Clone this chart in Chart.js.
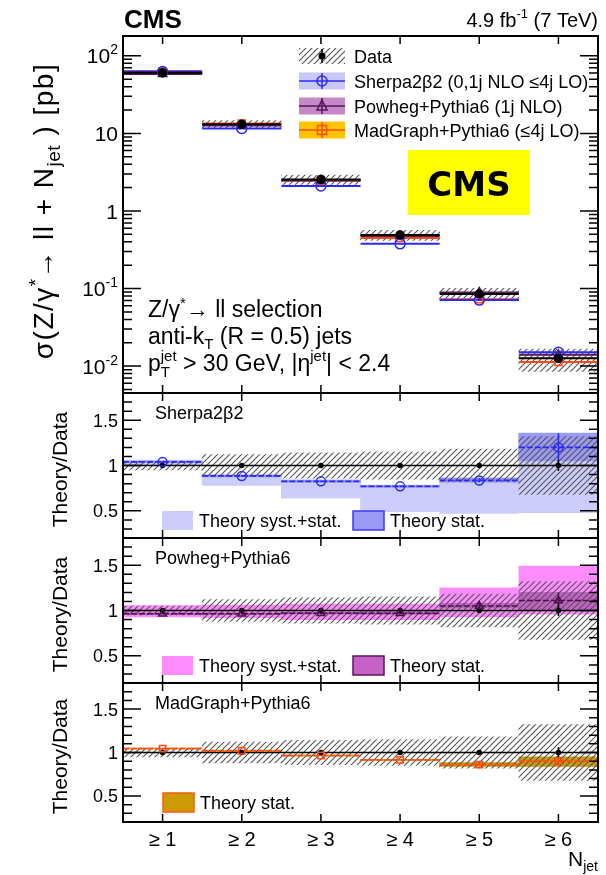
<!DOCTYPE html>
<html lang="en">
<head>
<meta charset="UTF-8">
<title>Z+jets inclusive jet multiplicity</title>
<script src="https://cdn.jsdelivr.net/npm/chart.js@4.4.0/dist/chart.umd.min.js"></script>
<style>
  html, body { margin: 0; padding: 0; background: #fff; }
  #wrap { position: relative; width: 606px; height: 875px; }
  #wrap canvas { position: absolute; left: 0; top: 0; }
</style>
</head>
<body>
<div id="wrap">
  <canvas id="mainChart" width="606" height="875"></canvas>
  <canvas id="sherpaChart" width="606" height="875"></canvas>
  <canvas id="powhegChart" width="606" height="875"></canvas>
  <canvas id="madgraphChart" width="606" height="875"></canvas>
</div>
<script>
// ---- values ----
const jetBins = [1, 2, 3, 4, 5, 6];
const binLabels = ['≥ 1', '≥ 2', '≥ 3', '≥ 4', '≥ 5', '≥ 6'];

// measured cross sections [pb], total relative uncertainty, stat. uncertainty
const dataXsec = [60.4, 13.1, 2.55, 0.49, 0.085, 0.0126];
const dataRelErr = [0.05, 0.12, 0.14, 0.15, 0.18, 0.32];
const dataStatErr = [0.008, 0.01, 0.012, 0.015, 0.025, 0.06];

// predictions [pb]
const sherpaXsec = [62.8, 11.6, 2.10, 0.377, 0.071, 0.0151];
const powhegXsec = [58.3, 12.6, 2.47, 0.475, 0.089, 0.0140];
const madgraphXsec = [63.1, 13.4, 2.46, 0.448, 0.073, 0.0113];

// theory / data
const sherpaRatio = [1.04, 0.885, 0.825, 0.77, 0.835, 1.20];
const sherpaStatLo = [1.03, 0.875, 0.815, 0.76, 0.815, 1.05];
const sherpaStatHi = [1.05, 0.895, 0.835, 0.78, 0.86, 1.355];
const sherpaTotLo = [1.00, 0.78, 0.64, 0.49, 0.47, 0.48];
const sherpaTotHi = [1.06, 0.90, 0.845, 0.785, 0.865, 1.36];

const powhegRatio = [0.965, 0.965, 0.97, 0.97, 1.05, 1.11];
const powhegStatLo = [0.955, 0.955, 0.96, 0.955, 1.025, 1.00];
const powhegStatHi = [0.975, 0.975, 0.98, 0.985, 1.08, 1.20];
const powhegTotLo = [0.93, 0.92, 0.90, 0.90, 0.93, 0.96];
const powhegTotHi = [1.055, 1.06, 1.07, 1.07, 1.25, 1.49];

const madgraphRatio = [1.045, 1.02, 0.965, 0.915, 0.86, 0.90];
const madgraphStatLo = [1.04, 1.015, 0.96, 0.91, 0.84, 0.84];
const madgraphStatHi = [1.05, 1.025, 0.97, 0.92, 0.885, 0.95];

const unity = [1, 1, 1, 1, 1, 1];

// axis ticks
const logMajor = [1e-2, 1e-1, 1, 10, 100];
const logLabels = ['10^-2', '10^-1', '1', '10', '10^2'];
const ratioMajor = [0.5, 1, 1.5];
const ratioLabels = ['0.5', '1', '1.5'];

// ---- layout ----
const FONT = '"Liberation Sans", Arial, Helvetica, sans-serif';
const X0 = 123, X1 = 598;
const mainPanel = { top: 36, bottom: 393 };
const sherpaPanel = { top: 393, bottom: 538 };
const powhegPanel = { top: 538, bottom: 683 };
const madgraphPanel = { top: 683, bottom: 822 };

const hatch = (() => {
  const c = document.createElement('canvas');
  c.width = 6; c.height = 6;
  const g = c.getContext('2d');
  g.strokeStyle = '#555';
  g.lineWidth = 1.1;
  g.beginPath();
  g.moveTo(-1, 7); g.lineTo(7, -1);
  g.moveTo(-1, 1); g.lineTo(1, -1);
  g.moveTo(5, 7); g.lineTo(7, 5);
  g.stroke();
  return g.createPattern(c, 'repeat');
})();

// ---- dataset helpers ----
function band(lo, hi, color, order) {
  return {
    type: 'bar', order,
    data: jetBins.map((b, i) => ({ x: b, y: [lo[i], hi[i]] })),
    backgroundColor: color, borderWidth: 0,
    barPercentage: 1, categoryPercentage: 1, grouped: false
  };
}

function steps(vals, color, width, dash, order) {
  const pts = [];
  jetBins.forEach((b, i) => {
    pts.push({ x: b - 0.5, y: vals[i] }, { x: b + 0.5, y: vals[i] }, { x: b + 0.5, y: null });
  });
  return { type: 'line', order, data: pts, borderColor: color, borderWidth: width,
           borderDash: dash, pointRadius: 0, spanGaps: false, fill: false };
}

function vbars(lo, hi, color, width, order) {
  const pts = [];
  jetBins.forEach((b, i) => {
    pts.push({ x: b, y: lo[i] }, { x: b, y: hi[i] }, { x: b, y: null });
  });
  return { type: 'line', order, data: pts, borderColor: color, borderWidth: width,
           pointRadius: 0, spanGaps: false, fill: false };
}

function markers(vals, style, color, radius, fill, order) {
  return {
    type: 'line', order, showLine: false,
    data: jetBins.map((b, i) => ({ x: b, y: vals[i] })),
    pointStyle: style, pointRadius: radius, pointBorderWidth: 1.5,
    pointBorderColor: color, pointBackgroundColor: fill
  };
}

// ---- text helpers ----
function setFont(ctx, p) {
  ctx.font = (p.bold ? 'bold ' : '') + p.s + 'px ' + (p.f || FONT);
  ctx.letterSpacing = (p.ls || 0) + 'px';
}

function richWidth(ctx, parts) {
  let w = 0;
  parts.forEach(p => {
    setFont(ctx, p);
    if (!p.keep) w += ctx.measureText(p.t).width;
  });
  return w;
}

function drawRich(ctx, parts, x, y, align) {
  const w = richWidth(ctx, parts);
  let cx = align === 'right' ? x - w : align === 'center' ? x - w / 2 : x;
  ctx.textAlign = 'left';
  ctx.textBaseline = 'alphabetic';
  parts.forEach(p => {
    setFont(ctx, p);
    ctx.fillStyle = p.c || '#000';
    ctx.fillText(p.t, cx, y + (p.dy || 0));
    if (!p.keep) cx += ctx.measureText(p.t).width;
  });
  ctx.letterSpacing = '0px';
}

function tickParts(label, size) {
  const [base, exp] = label.split('^');
  const parts = [{ t: base, s: size }];
  if (exp) parts.push({ t: exp, s: Math.round(size * 0.68), dy: -Math.round(size * 0.45) });
  return parts;
}

function rotated(ctx, parts, cx, cy) {
  ctx.save();
  ctx.translate(cx, cy);
  ctx.rotate(-Math.PI / 2);
  drawRich(ctx, parts, 0, 0, 'center');
  ctx.restore();
}

// ---- frame, inward ticks and tick labels ----
function framePlugin(major, minor, labels, labelSize) {
  return {
    id: 'frame',
    afterDraw(chart) {
      const { ctx, chartArea: a, scales: { x, y } } = chart;
      ctx.save();
      ctx.strokeStyle = '#000';
      ctx.lineWidth = 1.5;
      ctx.beginPath();
      jetBins.forEach(b => {
        const px = x.getPixelForValue(b);
        ctx.moveTo(px, a.top); ctx.lineTo(px, a.top + 8);
        ctx.moveTo(px, a.bottom); ctx.lineTo(px, a.bottom - 8);
      });
      major.forEach(v => {
        const py = y.getPixelForValue(v);
        ctx.moveTo(a.left, py); ctx.lineTo(a.left + 18, py);
        ctx.moveTo(a.right, py); ctx.lineTo(a.right - 18, py);
      });
      minor.forEach(v => {
        const py = y.getPixelForValue(v);
        ctx.moveTo(a.left, py); ctx.lineTo(a.left + 9, py);
        ctx.moveTo(a.right, py); ctx.lineTo(a.right - 9, py);
      });
      ctx.stroke();
      ctx.lineWidth = 2;
      ctx.strokeRect(a.left, a.top, a.right - a.left, a.bottom - a.top);
      major.forEach((v, i) => {
        const py = y.getPixelForValue(v);
        drawRich(ctx, tickParts(labels[i], labelSize), 118, py + labelSize * 0.36, 'right');
      });
      ctx.restore();
    }
  };
}

function ratioMinor() {
  const out = [];
  for (let k = 3; k <= 17; k++) if (k % 5) out.push(k / 10);
  return out;
}

function logMinor(lo, hi) {
  const out = [];
  for (let e = -3; e <= 2; e++) {
    for (let m = 2; m <= 9; m++) {
      const v = m * Math.pow(10, e);
      if (v > lo && v < hi) out.push(v);
    }
  }
  return out;
}

function makeChart(id, panel, yScale, datasets, extra) {
  return new Chart(document.getElementById(id), {
    type: 'bar',
    data: { datasets },
    options: {
      responsive: false,
      animation: false,
      devicePixelRatio: 1,
      layout: { padding: { left: X0, right: 606 - X1, top: panel.top, bottom: 875 - panel.bottom } },
      plugins: { legend: { display: false }, tooltip: { enabled: false } },
      scales: {
        x: {
          type: 'linear', min: 0.5, max: 6.5, offset: false, display: false,
          afterBuildTicks: s => { s.ticks = jetBins.map(v => ({ value: v })); }
        },
        y: Object.assign({ display: false }, yScale)
      }
    },
    plugins: extra
  });
}

// ---- main panel: cross sections ----
const Y_MIN = 0.0045, Y_MAX = 180;

makeChart('mainChart', mainPanel, { type: 'logarithmic', min: Y_MIN, max: Y_MAX }, [
  band(dataXsec.map((v, i) => v * (1 - dataRelErr[i])), dataXsec.map((v, i) => v * (1 + dataRelErr[i])), hatch, 20),
  steps(sherpaXsec, '#2a2aff', 2, [], 8),
  steps(powhegXsec, '#5a165a', 2, [], 8),
  steps(madgraphXsec, '#ff4a10', 2, [], 8),
  steps(dataXsec, '#000', 2, [], 6),
  markers(sherpaXsec, 'circle', '#2a2aff', 5, 'rgba(0,0,0,0)', 4),
  markers(powhegXsec, 'triangle', '#5a165a', 5, 'rgba(0,0,0,0)', 4),
  markers(madgraphXsec, 'rect', '#ff4a10', 5, 'rgba(0,0,0,0)', 4),
  markers(dataXsec, 'circle', '#000', 4, '#000', 1)
], [
  framePlugin(logMajor, logMinor(Y_MIN, Y_MAX), logLabels, 21),
  {
    id: 'mainText',
    afterDraw(chart) {
      const ctx = chart.ctx;
      ctx.save();
      drawRich(ctx, [{ t: 'CMS', s: 26, bold: true }], 124, 28, 'left');
      drawRich(ctx, [{ t: '4.9 fb', s: 20 }, { t: '-1', s: 13, dy: -9 }, { t: ' (7 TeV)', s: 20 }], 598, 27, 'right');

      rotated(ctx, [
        { t: 'σ(Z/γ', s: 28, ls: 1.5 }, { t: '*', s: 19, dy: -11 }, { t: '→ ll + N', s: 28, ls: 1.5 },
        { t: 'jet', s: 19, dy: 7, ls: 0.5 }, { t: ' ) [pb]', s: 28, ls: 1.5 }
      ], 53, 211);

      // legend
      const rows = [56, 81, 106, 130];
      const bx = 299, bw = 46, cx = 322;
      ctx.fillStyle = hatch;
      ctx.fillRect(bx, rows[0] - 8, bw, 16);
      ctx.fillStyle = '#c8c8fa';
      ctx.fillRect(bx, rows[1] - 8.5, bw, 17);
      ctx.fillStyle = '#c48ac8';
      ctx.fillRect(bx, rows[2] - 8.5, bw, 17);
      ctx.fillStyle = '#ffc400';
      ctx.fillRect(bx, rows[3] - 8.5, bw, 17);
      const lineCols = ['#000', '#2a2aff', '#5a165a', '#ff4a10'];
      ctx.lineWidth = 1.5;
      [1, 2, 3].forEach(k => {
        ctx.strokeStyle = lineCols[k];
        ctx.beginPath();
        ctx.moveTo(bx, rows[k]); ctx.lineTo(bx + bw, rows[k]);
        ctx.moveTo(cx, rows[k] - 8); ctx.lineTo(cx, rows[k] + 8);
        ctx.stroke();
      });
      ctx.strokeStyle = '#000';
      ctx.beginPath();
      ctx.moveTo(cx, rows[0] - 7); ctx.lineTo(cx, rows[0] + 7);
      ctx.stroke();
      ctx.fillStyle = '#000';
      ctx.beginPath(); ctx.arc(cx, rows[0], 3.5, 0, Math.PI * 2); ctx.fill();
      ctx.strokeStyle = '#2a2aff';
      ctx.beginPath(); ctx.arc(cx, rows[1], 5, 0, Math.PI * 2); ctx.stroke();
      ctx.strokeStyle = '#5a165a';
      ctx.beginPath(); ctx.moveTo(cx, rows[2] - 6); ctx.lineTo(cx + 5, rows[2] + 4); ctx.lineTo(cx - 5, rows[2] + 4); ctx.closePath(); ctx.stroke();
      ctx.strokeStyle = '#ff4a10';
      ctx.strokeRect(cx - 4.5, rows[3] - 4.5, 9, 9);

      const legendText = ['Data', 'Sherpa2β2 (0,1j NLO ≤4j LO)', 'Powheg+Pythia6 (1j NLO)', 'MadGraph+Pythia6 (≤4j LO)'];
      legendText.forEach((t, k) => drawRich(ctx, [{ t, s: 18 }], 354, rows[k] + 6.5, 'left'));

      // yellow tag
      ctx.fillStyle = '#ffff00';
      ctx.fillRect(408, 150, 122, 65);
      drawRich(ctx, [{ t: 'CMS', s: 34, bold: true, f: '"DejaVu Sans", sans-serif' }], 469, 196, 'center');

      // selection text
      drawRich(ctx, [{ t: 'Z/γ', s: 23 }, { t: '*', s: 15, dy: -9 }, { t: '→ ll selection', s: 23 }], 148, 317, 'left');
      drawRich(ctx, [{ t: 'anti-k', s: 23 }, { t: 'T', s: 15, dy: 5 }, { t: ' (R = 0.5) jets', s: 23 }], 148, 344, 'left');
      drawRich(ctx, [
        { t: 'p', s: 23 }, { t: 'T', s: 15, dy: 6, keep: true }, { t: 'jet', s: 15, dy: -10 },
        { t: ' > 30 GeV, |η', s: 23 }, { t: 'jet', s: 15, dy: -10 }, { t: '| < 2.4', s: 23 }
      ], 148, 371, 'left');
      ctx.restore();
    }
  }
]);

// ---- ratio panels ----
const RMIN = 0.2, RMAX = 1.8;
const dataHatch = () => band(dataRelErr.map(e => 1 - e), dataRelErr.map(e => 1 + e), hatch, 15);
const dataLine = () => steps(unity, '#000', 1.5, [], 10);
const dataBars = () => vbars(dataStatErr.map(e => 1 - e), dataStatErr.map(e => 1 + e), '#000', 1.5, 3);
const dataDots = () => markers(unity, 'circle', '#000', 2, '#000', 2);

function ratioText(panel, title, legend) {
  return {
    id: 'ratioText',
    afterDraw(chart) {
      const ctx = chart.ctx;
      ctx.save();
      rotated(ctx, [{ t: 'Theory/Data', s: 21 }], 67, (panel.top + panel.bottom) / 2 + 4);
      drawRich(ctx, [{ t: title, s: 18 }], 155, panel.top + 26, 'left');
      legend.forEach(item => {
        ctx.fillStyle = item.fill;
        ctx.fillRect(item.x, item.y - 9, 31, 19);
        if (item.border) {
          ctx.strokeStyle = item.border;
          ctx.lineWidth = 1.5;
          ctx.strokeRect(item.x, item.y - 9, 31, 19);
        }
        drawRich(ctx, [{ t: item.text, s: 18 }], item.x + 37, item.y + 6.5, 'left');
      });
      ctx.restore();
    }
  };
}

const ratioScale = { type: 'linear', min: RMIN, max: RMAX };

makeChart('sherpaChart', sherpaPanel, ratioScale, [
  band(sherpaTotLo, sherpaTotHi, '#cdcdfb', 30),
  band(sherpaStatLo, sherpaStatHi, '#9a9af5', 25),
  dataHatch(), dataLine(),
  steps(sherpaRatio, '#2a2aff', 1.8, [6, 2], 8),
  vbars(sherpaStatLo, sherpaStatHi, '#2a2aff', 1.5, 7),
  dataBars(), dataDots(),
  markers(sherpaRatio, 'circle', '#2a2aff', 4.5, 'rgba(0,0,0,0)', 1)
], [
  framePlugin(ratioMajor, ratioMinor(), ratioLabels, 18),
  ratioText(sherpaPanel, 'Sherpa2β2', [
    { x: 162, y: 520, fill: '#cdcdfb', text: 'Theory syst.+stat.' },
    { x: 353, y: 520, fill: '#9a9af5', border: '#3a3aff', text: 'Theory stat.' }
  ])
]);

makeChart('powhegChart', powhegPanel, ratioScale, [
  band(powhegTotLo, powhegTotHi, '#ff8cff', 30),
  band(powhegStatLo, powhegStatHi, '#c462c8', 25),
  dataHatch(), dataLine(),
  steps(powhegRatio, '#4d0f4d', 1.5, [6, 2], 8),
  vbars(powhegStatLo, powhegStatHi, '#4d0f4d', 1.5, 7),
  dataBars(), dataDots(),
  markers(powhegRatio, 'triangle', '#4d0f4d', 4.5, 'rgba(0,0,0,0)', 1)
], [
  framePlugin(ratioMajor, ratioMinor(), ratioLabels, 18),
  ratioText(powhegPanel, 'Powheg+Pythia6', [
    { x: 162, y: 665, fill: '#ff8cff', text: 'Theory syst.+stat.' },
    { x: 353, y: 665, fill: '#c462c8', border: '#5a165a', text: 'Theory stat.' }
  ])
]);

makeChart('madgraphChart', madgraphPanel, ratioScale, [
  band(madgraphStatLo, madgraphStatHi, '#cc9a06', 25),
  dataHatch(), dataLine(),
  steps(madgraphRatio, '#ff4a10', 1.8, [6, 2], 8),
  vbars(madgraphStatLo, madgraphStatHi, '#ff4a10', 1.5, 7),
  dataBars(), dataDots(),
  markers(madgraphRatio, 'rect', '#ff4a10', 4.5, 'rgba(0,0,0,0)', 1)
], [
  framePlugin(ratioMajor, ratioMinor(), ratioLabels, 18),
  ratioText(madgraphPanel, 'MadGraph+Pythia6', [
    { x: 163, y: 802, fill: '#cc9a06', border: '#ff5a10', text: 'Theory stat.' }
  ]),
  {
    id: 'xLabels',
    afterDraw(chart) {
      const { ctx, scales: { x } } = chart;
      ctx.save();
      jetBins.forEach((b, i) => drawRich(ctx, [{ t: binLabels[i], s: 20 }], x.getPixelForValue(b), 846, 'center'));
      drawRich(ctx, [{ t: 'N', s: 21 }, { t: 'jet', s: 14, dy: 5 }], 598, 866, 'right');
      ctx.restore();
    }
  }
]);
</script>
</body>
</html>
